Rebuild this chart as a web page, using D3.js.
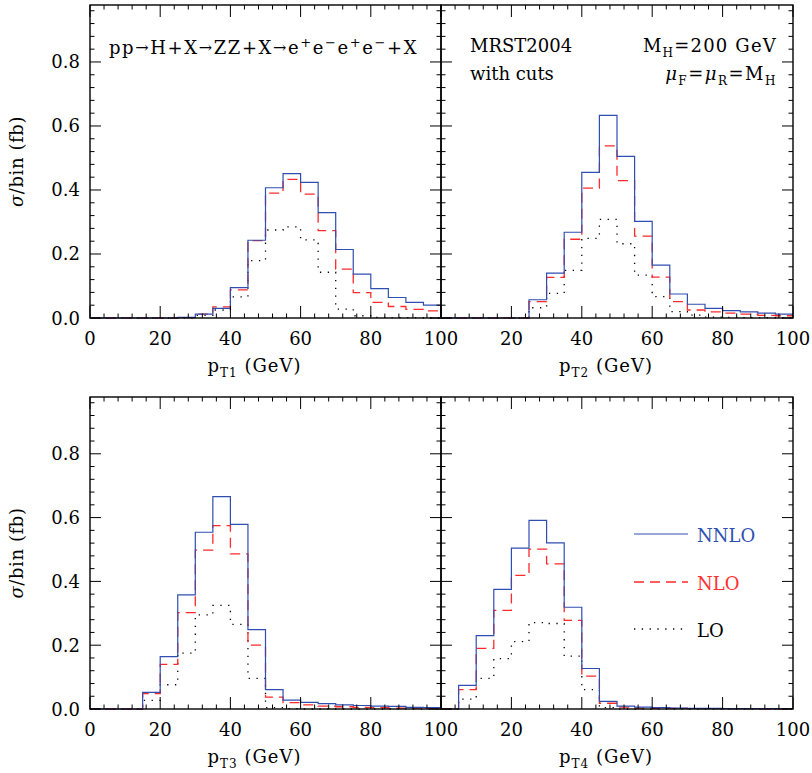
<!DOCTYPE html>
<html><head><meta charset="utf-8">
<script src="https://cdn.jsdelivr.net/npm/d3@7/dist/d3.min.js"></script>
<style>body{margin:0;background:#fff}svg{display:block}text{font-family:"DejaVu Serif",serif;fill:#000}</style>
</head><body>
<script>
const binEdges = [0,5,10,15,20,25,30,35,40,45,50,55,60,65,70,75,80,85,90,95,100];
const xTicks = [0,20,40,60,80,100];
const yTicks = [0.0,0.2,0.4,0.6,0.8];
const yTickLabels = ["0.0","0.2","0.4","0.6","0.8"];
const seriesNames = ["NNLO","NLO","LO"];

const pT1_NNLO = [0,0,0,0,0,0.002,0.012,0.030,0.095,0.243,0.407,0.451,0.424,0.329,0.214,0.137,0.092,0.064,0.049,0.040];
const pT1_NLO  = [0,0,0,0,0,0.001,0.012,0.035,0.088,0.242,0.390,0.433,0.387,0.273,0.153,0.079,0.049,0.036,0.027,0.022];
const pT1_LO   = [0,0,0,0,0,0,0.008,0.025,0.066,0.179,0.275,0.285,0.244,0.143,0.028,0.007,0.002,0.001,0.001,0.000];

const pT2_NNLO = [0,0,0,0,0,0.057,0.140,0.268,0.455,0.633,0.505,0.302,0.165,0.075,0.043,0.030,0.023,0.019,0.015,0.012];
const pT2_NLO  = [0,0,0,0,0,0.051,0.127,0.246,0.406,0.538,0.429,0.256,0.128,0.051,0.025,0.019,0.015,0.012,0.008,0.007];
const pT2_LO   = [0,0,0,0,0,0.032,0.077,0.149,0.249,0.308,0.232,0.134,0.067,0.020,0.009,0.003,0.002,0.001,0.001,0.000];

const pT3_NNLO = [0,0,0,0.052,0.164,0.358,0.554,0.666,0.579,0.249,0.061,0.028,0.021,0.017,0.013,0.011,0.009,0.008,0.005,0.004];
const pT3_NLO  = [0,0,0,0.048,0.140,0.302,0.498,0.575,0.486,0.200,0.037,0.020,0.013,0.009,0.007,0.005,0.004,0.003,0.003,0.002];
const pT3_LO   = [0,0,0,0.027,0.076,0.175,0.295,0.325,0.265,0.096,0.004,0.001,0,0,0,0,0,0,0,0];

const pT4_NNLO = [0,0.074,0.230,0.375,0.504,0.591,0.521,0.319,0.127,0.024,0.009,0.006,0.004,0.003,0.002,0.002,0.001,0.001,0.001,0.001];
const pT4_NLO  = [0,0.061,0.190,0.309,0.419,0.501,0.455,0.278,0.103,0.018,0.006,0.003,0.002,0.002,0.001,0.001,0.001,0.001,0,0];
const pT4_LO   = [0,0.031,0.096,0.158,0.211,0.271,0.268,0.166,0.061,0.004,0,0,0,0,0,0,0,0,0,0];

const W = 812, H = 773;
const svg = d3.select("body").append("svg").attr("width", W).attr("height", H);

const colors = {NNLO:"#2f4fb0", NLO:"#ff2a2a", LO:"#000"};
const dashes = {NNLO:null, NLO:"10,6", LO:"1.3,6.5"};
const widths = {NNLO:1.2, NLO:1.3, LO:1.3};

const panels = [
  {x0:90, x1:441, y0:5, y1:318, data:{NNLO:pT1_NNLO,NLO:pT1_NLO,LO:pT1_LO}, sub:"T1", left:true},
  {x0:441, x1:793, y0:5, y1:318, data:{NNLO:pT2_NNLO,NLO:pT2_NLO,LO:pT2_LO}, sub:"T2", left:false},
  {x0:90, x1:441, y0:397, y1:709, data:{NNLO:pT3_NNLO,NLO:pT3_NLO,LO:pT3_LO}, sub:"T3", left:true},
  {x0:441, x1:793, y0:397, y1:709, data:{NNLO:pT4_NNLO,NLO:pT4_NLO,LO:pT4_LO}, sub:"T4", left:false}
];

const FS = 18;

function rich(sel, parts){
  let off = 0;
  parts.forEach(([t,k])=>{
    const ts = sel.append("tspan").text(t);
    let target = 0, size = FS;
    if(k==="sub"){target = 5; size = 12;}
    else if(k==="sup"){target = -7; size = 13;}
    else if(k==="arr"){target = -1; size = 16;}
    else if(k==="it"){ts.attr("font-style","italic");}
    ts.attr("font-size", size);
    if(target!==off){ts.attr("dy", target-off); off = target;}
  });
  return sel;
}

panels.forEach(p=>{
  const x = d3.scaleLinear().domain([0,100]).range([p.x0,p.x1]);
  const y = d3.scaleLinear().domain([0,0.978]).range([p.y1,p.y0]);
  const g = svg.append("g");

  ["LO","NLO","NNLO"].forEach(name=>{
    const vals = p.data[name];
    const pts = vals.map((v,i)=>[binEdges[i], v]);
    pts.push([binEdges[binEdges.length-1], vals[vals.length-1]]);
    const line = d3.line().x(d=>x(d[0])).y(d=>y(d[1])).curve(d3.curveStepAfter);
    g.append("path").attr("d", line(pts)).attr("fill","none")
      .attr("stroke", colors[name]).attr("stroke-width", widths[name])
      .attr("stroke-dasharray", dashes[name]);
  });

  g.append("rect").attr("x",p.x0).attr("y",p.y0).attr("width",p.x1-p.x0).attr("height",p.y1-p.y0)
    .attr("fill","none").attr("stroke","#000").attr("stroke-width",1.4);

  const xMinor = d3.range(0,100.001,4);
  const tk = g.append("g").attr("stroke","#000").attr("stroke-width",1);
  xMinor.forEach(v=>{
    const major = xTicks.includes(v);
    const L = major?12:4.5;
    tk.append("line").attr("x1",x(v)).attr("x2",x(v)).attr("y1",p.y1).attr("y2",p.y1-L);
    tk.append("line").attr("x1",x(v)).attr("x2",x(v)).attr("y1",p.y0).attr("y2",p.y0+L);
  });
  xTicks.forEach(v=>{
    if(!p.left && v===0) return;
    g.append("text").attr("x",x(v)).attr("y",p.y1+27).attr("text-anchor","middle")
      .attr("font-size",FS).text(v);
  });
  const yMinor = d3.range(0,0.97,0.04);
  yMinor.forEach(v=>{
    const major = Math.abs(Math.round(v/0.2)*0.2 - v) < 1e-6;
    const L = major?11:4.5;
    tk.append("line").attr("y1",y(v)).attr("y2",y(v)).attr("x1",p.x0).attr("x2",p.x0+L);
    tk.append("line").attr("y1",y(v)).attr("y2",y(v)).attr("x1",p.x1).attr("x2",p.x1-L);
  });
  if(p.left){
    yTicks.forEach((v,i)=>{
      g.append("text").attr("x",p.x0-10).attr("y",y(v)+6.5).attr("text-anchor","end")
        .attr("font-size",FS).text(yTickLabels[i]);
    });
    const cy = (p.y0+p.y1)/2;
    rich(g.append("text").attr("transform",`translate(23,${cy}) rotate(-90)`).attr("text-anchor","middle")
      .attr("font-size",FS).attr("letter-spacing",0.6), [["σ","it"],["/bin (fb)","n"]]);
  }
  rich(g.append("text").attr("x",(p.x0+p.x1)/2-11).attr("y",p.y1+54).attr("text-anchor","middle")
    .attr("font-size",FS).attr("letter-spacing",1), [["p","n"],[p.sub,"sub"],[" (GeV)","n"]]);
});

rich(svg.append("text").attr("x",109).attr("y",54).attr("font-size",FS).attr("letter-spacing",1.6),
  [["pp","n"],["→","arr"],["H+X","n"],["→","arr"],["ZZ+X","n"],["→","arr"],["e","n"],["+","sup"],["e","n"],["−","sup"],["e","n"],["+","sup"],["e","n"],["−","sup"],["+X","n"]]);
svg.append("text").attr("x",470).attr("y",52).attr("font-size",FS).text("MRST2004");
svg.append("text").attr("x",470).attr("y",80).attr("font-size",FS).text("with cuts");
rich(svg.append("text").attr("x",777).attr("y",52).attr("text-anchor","end").attr("font-size",FS).attr("letter-spacing",1.2),
  [["M","n"],["H","sub"],["=200 GeV","n"]]);
rich(svg.append("text").attr("x",777).attr("y",80).attr("text-anchor","end").attr("font-size",FS).attr("letter-spacing",1.5),
  [["μ","it"],["F","sub"],["=","n"],["μ","it"],["R","sub"],["=M","n"],["H","sub"]]);

const legY = [534, 582, 629];
seriesNames.forEach((name,i)=>{
  svg.append("line").attr("x1",634).attr("x2",688).attr("y1",legY[i]).attr("y2",legY[i])
    .attr("stroke",colors[name]).attr("stroke-width",widths[name]).attr("stroke-dasharray",dashes[name]);
  svg.append("text").attr("x",697).attr("y",legY[i]+8).attr("font-size",FS)
    .style("fill", name==="NNLO"?"#3050b0":(name==="NLO"?"#ff3030":"#000")).text(name);
});
</script>
</body></html>
